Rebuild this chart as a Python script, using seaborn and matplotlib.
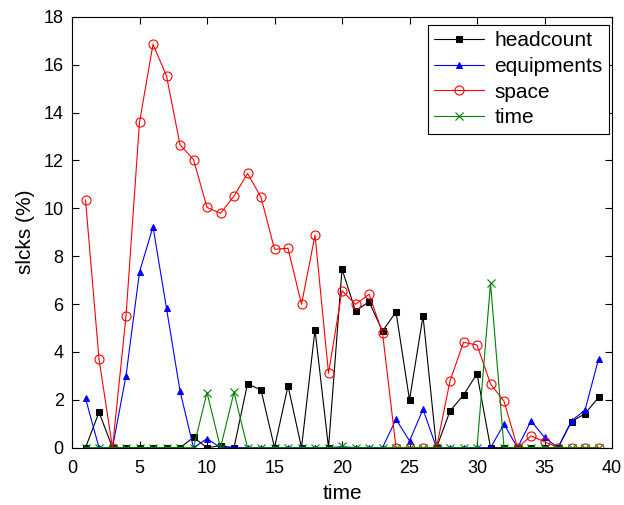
import matplotlib
matplotlib.use("Agg")
import matplotlib.pyplot as plt
import seaborn as sns
import pandas as pd

time_idx = list(range(1, 40))
headcount = [0, 1.48, 0, 0, 0, 0, 0, 0, 0.43, 0, 0.08, 0, 2.67, 2.41, 0, 2.58, 0, 4.93, 0,
             7.46, 5.71, 6.10, 4.87, 5.67, 1.99, 5.5, 0, 1.53, 2.2, 3.09, 0, 0, 0, 0, 0, 0,
             1.09, 1.42, 2.1]
equipments = [2.06, 0, 0, 3.01, 7.34, 9.23, 5.82, 2.37, 0, 0.38, 0, 0, 0, 0, 0, 0, 0, 0, 0,
              0, 0, 0, 0, 1.19, 0.28, 1.6, 0, 0, 0, 0, 0, 0.98, 0, 1.12, 0.43, 0,
              1.12, 1.57, 3.7]
space = [10.35, 3.7, 0, 5.5, 13.6, 16.85, 15.53, 12.66, 12.03, 10.04, 9.79, 10.51, 11.46,
         10.46, 8.29, 8.33, 5.99, 8.88, 3.11, 6.56, 5.99, 6.41, 4.8, 0, 0, 0, 0, 2.79, 4.40,
         4.29, 2.66, 1.94, 0, 0.49, 0.25, 0, 0, 0, 0]
time_vals = [0, 0, 0, 0, 0, 0, 0, 0, 0, 2.3, 0, 2.31, 0, 0, 0, 0, 0, 0, 0, 0.05, 0, 0, 0, 0,
             0, 0, 0, 0, 0, 0, 6.87, 0, 0, 0, 0, 0, 0, 0, 0]

x_ticks = [0, 5, 10, 15, 20, 25, 30, 35, 40]
y_ticks = [0, 2, 4, 6, 8, 10, 12, 14, 16, 18]

sns.set_theme(style="ticks")
plt.rcParams['font.family'] = ['Liberation Sans', 'DejaVu Sans']
plt.rcParams['xtick.direction'] = 'in'
plt.rcParams['ytick.direction'] = 'in'
plt.rcParams['xtick.top'] = True
plt.rcParams['ytick.right'] = True
plt.rcParams['text.color'] = 'black'
plt.rcParams['axes.labelcolor'] = 'black'

fig = plt.figure(figsize=(6.24, 5.05), dpi=100)
ax = fig.add_axes([0.1154, 0.1135, 0.8654, 0.8532])

df = pd.DataFrame({"t": time_idx, "headcount": headcount, "equipments": equipments,
                   "space": space, "time": time_vals})

lw = 0.8
sns.lineplot(data=df, x="t", y="headcount", ax=ax, color="black", lw=lw, marker="s",
             markersize=4.2, markerfacecolor="black", markeredgecolor="black",
             label="headcount", estimator=None)
sns.lineplot(data=df, x="t", y="equipments", ax=ax, color="blue", lw=lw, marker="^",
             markersize=4.2, markerfacecolor="blue", markeredgecolor="blue",
             label="equipments", estimator=None)
sns.lineplot(data=df, x="t", y="space", ax=ax, color="red", lw=lw, marker="o",
             markersize=6.5, markerfacecolor="none", markeredgecolor="red",
             markeredgewidth=0.8, label="space", estimator=None)
sns.lineplot(data=df, x="t", y="time", ax=ax, color="green", lw=lw, marker="x",
             markersize=6, markeredgecolor="green", markeredgewidth=0.8,
             label="time", estimator=None)

ax.set_xlim(0, 40)
ax.set_ylim(0, 18)
ax.set_xticks(x_ticks)
ax.set_yticks(y_ticks)
ax.tick_params(labelsize=13, length=5, width=0.8, colors="black")
ax.tick_params(axis="x", pad=9)
ax.tick_params(axis="y", pad=6)
for s in ax.spines.values():
    s.set_linewidth(0.8)
    s.set_color("black")
ax.set_xlabel("time", fontsize=15, labelpad=5, color="black")
ax.set_ylabel("slcks (%)", fontsize=15, labelpad=6, color="black")

leg = ax.legend(loc="upper right", bbox_to_anchor=(0.9944, 0.9807), borderaxespad=0,
                fontsize=15, handlelength=2.4, handletextpad=0.5, frameon=True,
                fancybox=False, edgecolor="black", framealpha=1,
                borderpad=0.3, labelspacing=0.32)
leg.get_frame().set_linewidth(0.8)
for t in leg.get_texts():
    t.set_color("black")

fig.savefig("out.png", dpi=100)
